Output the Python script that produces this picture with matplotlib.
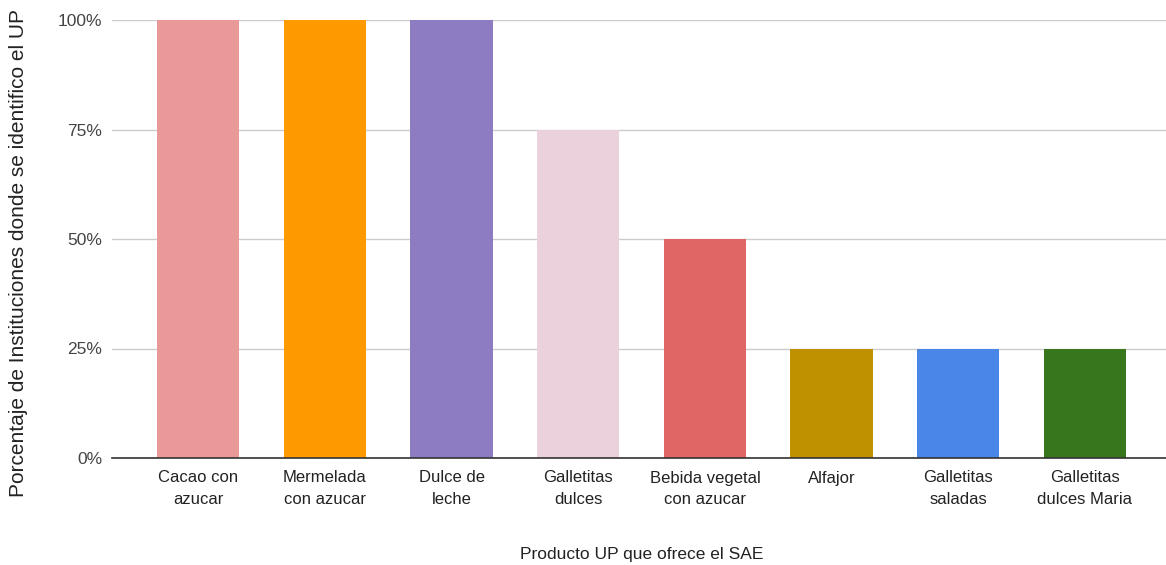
import matplotlib.pyplot as plt
from matplotlib.ticker import PercentFormatter

productos = ['Cacao con\nazucar', 'Mermelada\ncon azucar', 'Dulce de\nleche', 'Galletitas\ndulces',
             'Bebida vegetal\ncon azucar', 'Alfajor', 'Galletitas\nsaladas', 'Galletitas\ndulces Maria']
porcentajes = [100, 100, 100, 75, 50, 25, 25, 25]
colores = ['#ea9999', '#ff9900', '#8e7cc3', '#ead1dc', '#e06666', '#bf9000', '#4a86e8', '#38761d']

plt.rcParams['font.family'] = ['Liberation Sans', 'DejaVu Sans']

fig = plt.figure(figsize=(11.66, 5.65), dpi=100)
ax = fig.add_axes([112 / 1166, 1 - 458 / 565, 1 - 112 / 1166, (458 - 20) / 565])

x = range(len(productos))
ax.bar(x, porcentajes, width=0.65, color=colores, zorder=3)

ax.set_xlim(-0.68, 7.64)
ax.set_ylim(0, 100)
ax.set_yticks([0, 25, 50, 75, 100])
ax.yaxis.set_major_formatter(PercentFormatter(decimals=0))
ax.set_xticks(list(x))
ax.set_xticklabels(productos, fontsize=12, color='#222222', linespacing=1.5)
ax.tick_params(axis='y', labelsize=12.5, labelcolor='#444444', length=0, pad=7)
ax.tick_params(axis='x', length=0, pad=9)

ax.grid(axis='y', color='#cccccc', linewidth=1, zorder=0)
for s in ['top', 'right', 'left']:
    ax.spines[s].set_visible(False)
ax.spines['bottom'].set_color('#333333')
ax.spines['bottom'].set_linewidth(1.2)
ax.spines['bottom'].set_zorder(4)

fig.text(642 / 1166, 1 - 555 / 565, 'Producto UP que ofrece el SAE', ha='center', va='center',
         fontsize=12.5, color='#222222')
fig.text(19 / 1166, 1 - 253 / 565, 'Porcentaje de Instituciones donde se identifico el UP',
         ha='center', va='center', rotation=90, fontsize=15, color='#222222')

fig.savefig('out.png', dpi=100)
